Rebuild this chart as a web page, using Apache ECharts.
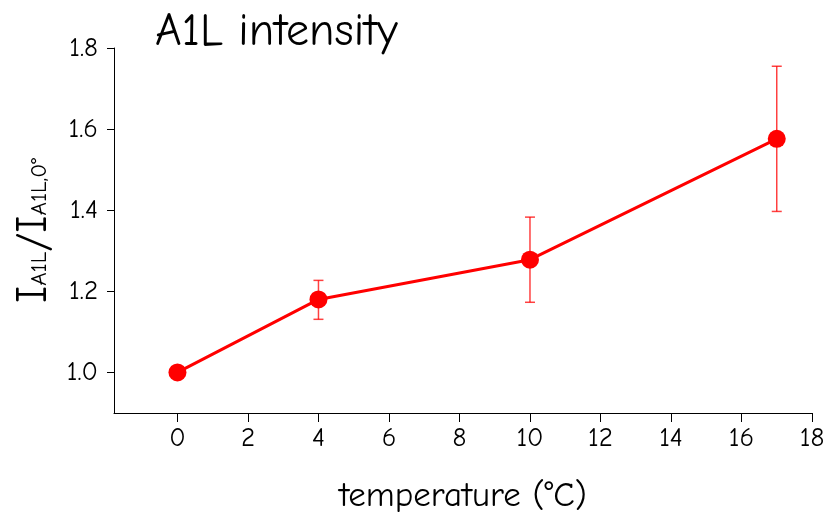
<!DOCTYPE html>
<html><head><meta charset="utf-8">
<script src="https://cdn.jsdelivr.net/npm/echarts@6/dist/echarts.min.js"></script>
<style>html,body{margin:0;padding:0;background:#fff}#c{width:829px;height:518px}</style>
</head><body><div id="c"></div>
<script>
const temps = [0, 4, 10, 17];
const ratio = [1.0, 1.18, 1.278, 1.576];
const errLow = [1.0, 1.131, 1.173, 1.397];
const errHigh = [1.0, 1.227, 1.383, 1.755];
const xTicks = [0, 2, 4, 6, 8, 10, 12, 14, 16, 18];
const yTicks = [1.0, 1.2, 1.4, 1.6, 1.8];

const FONT = '"Comic Sans MS", "Comic Neue", "Open Sans", "DejaVu Sans", sans-serif';
const chart = echarts.init(document.getElementById('c'));
chart.setOption({
  animation: false,
  title: {text: 'A1L intensity', left: 150, top: 4,
    textStyle: {fontFamily: FONT, fontSize: 46, fontWeight: 'normal', color: '#000'}},
  grid: {left: 114, right: 17, top: 48, bottom: 105, outerBoundsMode: 'none', containLabel: false},
  xAxis: {type: 'value', min: -1.8, max: 18,
    name: 'temperature (°C)', nameLocation: 'middle', nameGap: 66,
    nameTextStyle: {fontFamily: FONT, fontSize: 35, color: '#000'},
    axisLine: {show: true, onZero: false, lineStyle: {color: '#000', width: 1}},
    axisTick: {show: true, length: 9, lineStyle: {color: '#000'}, customValues: xTicks},
    axisLabel: {fontFamily: FONT, fontSize: 27, color: '#000', margin: 12, customValues: xTicks},
    splitLine: {show: false}},
  yAxis: {type: 'value', min: 0.9, max: 1.8,
    name: '{big|I}{sub|A1L}{big|/I}{sub|A1L,0°}', nameLocation: 'middle', nameGap: 59, nameRotate: 90,
    nameTextStyle: {rich: {
      big: {fontFamily: FONT, fontSize: 44, color: '#000', lineHeight: 34},
      sub: {fontFamily: FONT, fontSize: 23, color: '#000', verticalAlign: 'bottom', lineHeight: 20}
    }},
    axisLine: {show: true, onZero: false, lineStyle: {color: '#000', width: 1}},
    axisTick: {show: true, length: 7, lineStyle: {color: '#000'}, customValues: yTicks},
    axisLabel: {fontFamily: FONT, fontSize: 27, color: '#000', margin: 16, customValues: yTicks,
      formatter: v => v.toFixed(1)},
    splitLine: {show: false}},
  series: [
    {type: 'custom',
     data: temps.map((t, i) => [t, errLow[i], errHigh[i]]),
     renderItem: (params, api) => {
       const lo = api.coord([api.value(0), api.value(1)]);
       const hi = api.coord([api.value(0), api.value(2)]);
       const w = 5;
       const st = {stroke: 'rgba(255,0,0,0.75)', lineWidth: 1.5};
       return {type: 'group', children: [
         {type: 'line', shape: {x1: lo[0], y1: lo[1], x2: hi[0], y2: hi[1]}, style: st},
         {type: 'line', shape: {x1: lo[0]-w, y1: lo[1], x2: lo[0]+w, y2: lo[1]}, style: st},
         {type: 'line', shape: {x1: hi[0]-w, y1: hi[1], x2: hi[0]+w, y2: hi[1]}, style: st}
       ]};
     }, z: 1},
    {type: 'line', data: temps.map((t, i) => [t, ratio[i]]),
     symbol: 'circle', symbolSize: 18,
     lineStyle: {color: '#ff0000', width: 3},
     itemStyle: {color: '#ff0000'}, z: 2}
  ]
});
</script></body></html>
